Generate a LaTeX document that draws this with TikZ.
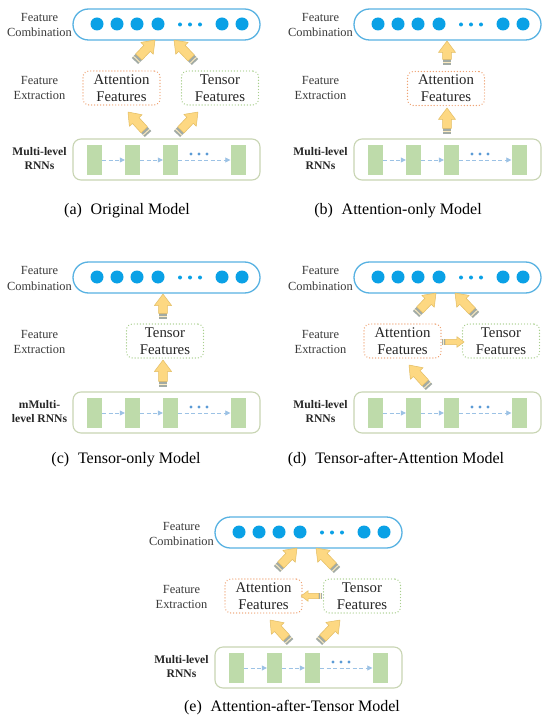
\documentclass[tikz,border=0pt]{standalone}
\usepackage{fontspec}
\newfontfamily\capfont{Liberation Serif}
\newfontfamily\dfont{Liberation Serif}
\usetikzlibrary{calc,arrows.meta}
\definecolor{pillblue}{HTML}{58B2E2}
\definecolor{dotblue}{HTML}{0AA1E6}
\definecolor{attorange}{HTML}{EFA374}
\definecolor{tengreen}{HTML}{A8CF8C}
\definecolor{rnnedge}{HTML}{C8D5B3}
\definecolor{rnnfill}{HTML}{BEDBAA}
\definecolor{flowblue}{HTML}{9CC2E5}
\definecolor{elldot}{HTML}{5B9BD5}
\definecolor{arrowyellow}{HTML}{FDD882}
\definecolor{arrowedge}{HTML}{E3BD63}
\definecolor{arrowgrey}{HTML}{A2ABA5}
\definecolor{labelgrey}{HTML}{3A3A3A}
\tikzset{
 lbl/.style={align=center, text=labelgrey, font=\dfont\fontsize{12.4}{15}\selectfont, inner sep=0},
 lblb/.style={align=center, text=black!85, font=\dfont\bfseries\fontsize{11.6}{14}\selectfont, inner sep=0},
 pill/.style={draw=pillblue, line width=1.3, fill=white, rounded corners=15.5, minimum width=187, minimum height=31, inner sep=0},
 bigdot/.style={circle, fill=dotblue, minimum size=13, inner sep=0},
 smalldot/.style={circle, fill=dotblue, minimum size=4, inner sep=0},
 rnnbox/.style={draw=rnnedge, line width=1.1, rounded corners=8, minimum width=187, minimum height=41, inner sep=0},
 cell/.style={fill=rnnfill, minimum width=15, minimum height=30, inner sep=0},
 celldot/.style={circle, fill=elldot, minimum size=3.4, inner sep=0},
 flow/.style={draw=flowblue, line width=0.8, dash pattern=on 4pt off 2.5pt, -{Triangle[length=5pt,width=5pt]}},
 featbox/.style={line width=1.4, dash pattern=on 0.01pt off 3pt, line cap=round, rounded corners=6, minimum width=77, minimum height=34, align=center, inner sep=0, text=black!85, font=\dfont\fontsize{14.8}{17}\selectfont},
 attbox/.style={featbox, draw=attorange},
 tenbox/.style={featbox, draw=tengreen},
 captxt/.style={inner sep=0, font=\capfont\fontsize{16}{18}\selectfont},
 barrowpic/.pic={
  \fill[arrowgrey] (0,-4.4) rectangle (5.6,4.4);
  \fill[arrowyellow!50!white] (2,-4.4) rectangle (2.9,4.4);
  \filldraw[fill=arrowyellow, draw=arrowedge, line width=0.5, line join=round] (5.6,-4.4) -- ({#1-11.5},-4.4) -- ({#1-11.5},-8.6) -- (#1,0) -- ({#1-11.5},8.6) -- ({#1-11.5},4.4) -- (5.6,4.4) -- cycle;
 }
}
\newcommand\barrow[3][1]{\path let \p1=($(#3)-(#2)$), \n1={atan2(\y1,\x1)}, \n2={veclen(\x1,\y1)/#1} in pic[rotate=\n1, scale=#1] at (#2) {barrowpic={\n2}};}
\newcommand\panelframe[4]{%
\begin{scope}[shift={(#2,#3)}]
 \node[lbl] (#1lc) at (39.5,25.5) {Feature\\Combination};
 \node[pill] (#1comb) at (166.5,24.5) {};
 \foreach \i/\xx in {1/97,2/117,3/137,4/158,5/222,6/242} \node[bigdot] (#1d\i) at (\xx,24) {};
 \foreach \i/\xx in {1/180,2/190,3/200} \node[smalldot] (#1e\i) at (\xx,24.5) {};
 \node[lbl] (#1lx) at (39.5,88.5) {Feature\\Extraction};
 \node[rnnbox] (#1rnn) at (166.5,159.5) {};
 \foreach \i/\xx in {1/94.5,2/132.5,3/170.5,4/238} \node[cell] (#1c\i) at (\xx,160) {};
 \draw[flow] (#1c1) -- (#1c2);
 \draw[flow] (#1c2) -- (#1c3);
 \draw[flow] (#1c3) -- (#1c4);
 \foreach \i/\xx in {1/191,2/199,3/207} \node[celldot] (#1f\i) at (\xx,154) {};
 \node[lblb] (#1lr) at (39.5,158.5) {#4};
\end{scope}}
\begin{document}
\begin{tikzpicture}[x=1pt,y=-1pt]
\useasboundingbox (0,0) rectangle (542,727);
\fill[white] (0,0) rectangle (542,727);
% ---------- (a)
\panelframe{a-}{0}{0}{Multi-level\\RNNs}
\begin{scope}[shift={(0,0)}]
 \node[attbox] (a-att) at (121.5,88) {Attention\\Features};
 \node[tenbox] (a-ten) at (220,88) {Tensor\\Features};
 \coordinate (a-t1) at (135,61); \coordinate (a-h1) at (155,40);
 \coordinate (a-t2) at (195,62); \coordinate (a-h2) at (174,40);
 \coordinate (a-t3) at (148,134); \coordinate (a-h3) at (128,112);
 \coordinate (a-t4) at (177,134); \coordinate (a-h4) at (198,112);
 \node[captxt] (a-cap) at (127,211) {(a)\hspace{0.55em}Original Model};
\end{scope}
\barrow{a-t1}{a-h1}\barrow{a-t2}{a-h2}\barrow{a-t3}{a-h3}\barrow{a-t4}{a-h4}
% ---------- (b)
\panelframe{b-}{281}{0}{Multi-level\\RNNs}
\begin{scope}[shift={(281,0)}]
 \node[attbox] (b-att) at (165,88.5) {Attention\\Features};
 \coordinate (b-t1) at (166,65); \coordinate (b-h1) at (166,41);
 \coordinate (b-t2) at (166,134); \coordinate (b-h2) at (166,108);
\end{scope}
\node[captxt] (b-cap) at (398,211) {(b)\hspace{0.55em}Attention-only Model};
\barrow{b-t1}{b-h1}\barrow{b-t2}{b-h2}
% ---------- (c)
\panelframe{c-}{0}{253}{mMulti-\\level RNNs}
\begin{scope}[shift={(0,253)}]
 \node[tenbox] (c-ten) at (165,88) {Tensor\\Features};
 \coordinate (c-t1) at (163,66); \coordinate (c-h1) at (163,41);
 \coordinate (c-t2) at (163,134); \coordinate (c-h2) at (163,107);
\end{scope}
\node[captxt] (c-cap) at (126,460) {(c)\hspace{0.55em}Tensor-only Model};
\barrow{c-t1}{c-h1}\barrow{c-t2}{c-h2}
% ---------- (d)
\panelframe{d-}{281}{253}{Multi-level\\RNNs}
\begin{scope}[shift={(281,253)}]
 \node[attbox] (d-att) at (121.5,88) {Attention\\Features};
 \node[tenbox] (d-ten) at (220,88) {Tensor\\Features};
 \coordinate (d-t1) at (135,61); \coordinate (d-h1) at (155,40);
 \coordinate (d-t2) at (195,62); \coordinate (d-h2) at (174,40);
 \coordinate (d-t3) at (148,134); \coordinate (d-h3) at (128,112);
 \coordinate (d-t5) at (161,89); \coordinate (d-h5) at (183,89);
\end{scope}
\node[captxt] (d-cap) at (396,460) {(d)\hspace{0.55em}Tensor-after-Attention Model};
\barrow{d-t1}{d-h1}\barrow{d-t2}{d-h2}\barrow{d-t3}{d-h3}\barrow[0.62]{d-t5}{d-h5}
% ---------- (e)
\panelframe{e-}{142}{508}{Multi-level\\RNNs}
\begin{scope}[shift={(142,508)}]
 \node[attbox] (e-att) at (121.5,88) {Attention\\Features};
 \node[tenbox] (e-ten) at (220,88) {Tensor\\Features};
 \coordinate (e-t1) at (135,61); \coordinate (e-h1) at (155,40);
 \coordinate (e-t2) at (195,62); \coordinate (e-h2) at (174,40);
 \coordinate (e-t3) at (148,134); \coordinate (e-h3) at (128,112);
 \coordinate (e-t4) at (177,134); \coordinate (e-h4) at (198,112);
 \coordinate (e-t5) at (180,88); \coordinate (e-h5) at (159,88);
\end{scope}
\node[captxt] (e-cap) at (292,708) {(e)\hspace{0.55em}Attention-after-Tensor Model};
\barrow{e-t1}{e-h1}\barrow{e-t2}{e-h2}\barrow{e-t3}{e-h3}\barrow{e-t4}{e-h4}\barrow[0.62]{e-t5}{e-h5}
\end{tikzpicture}
\end{document}
